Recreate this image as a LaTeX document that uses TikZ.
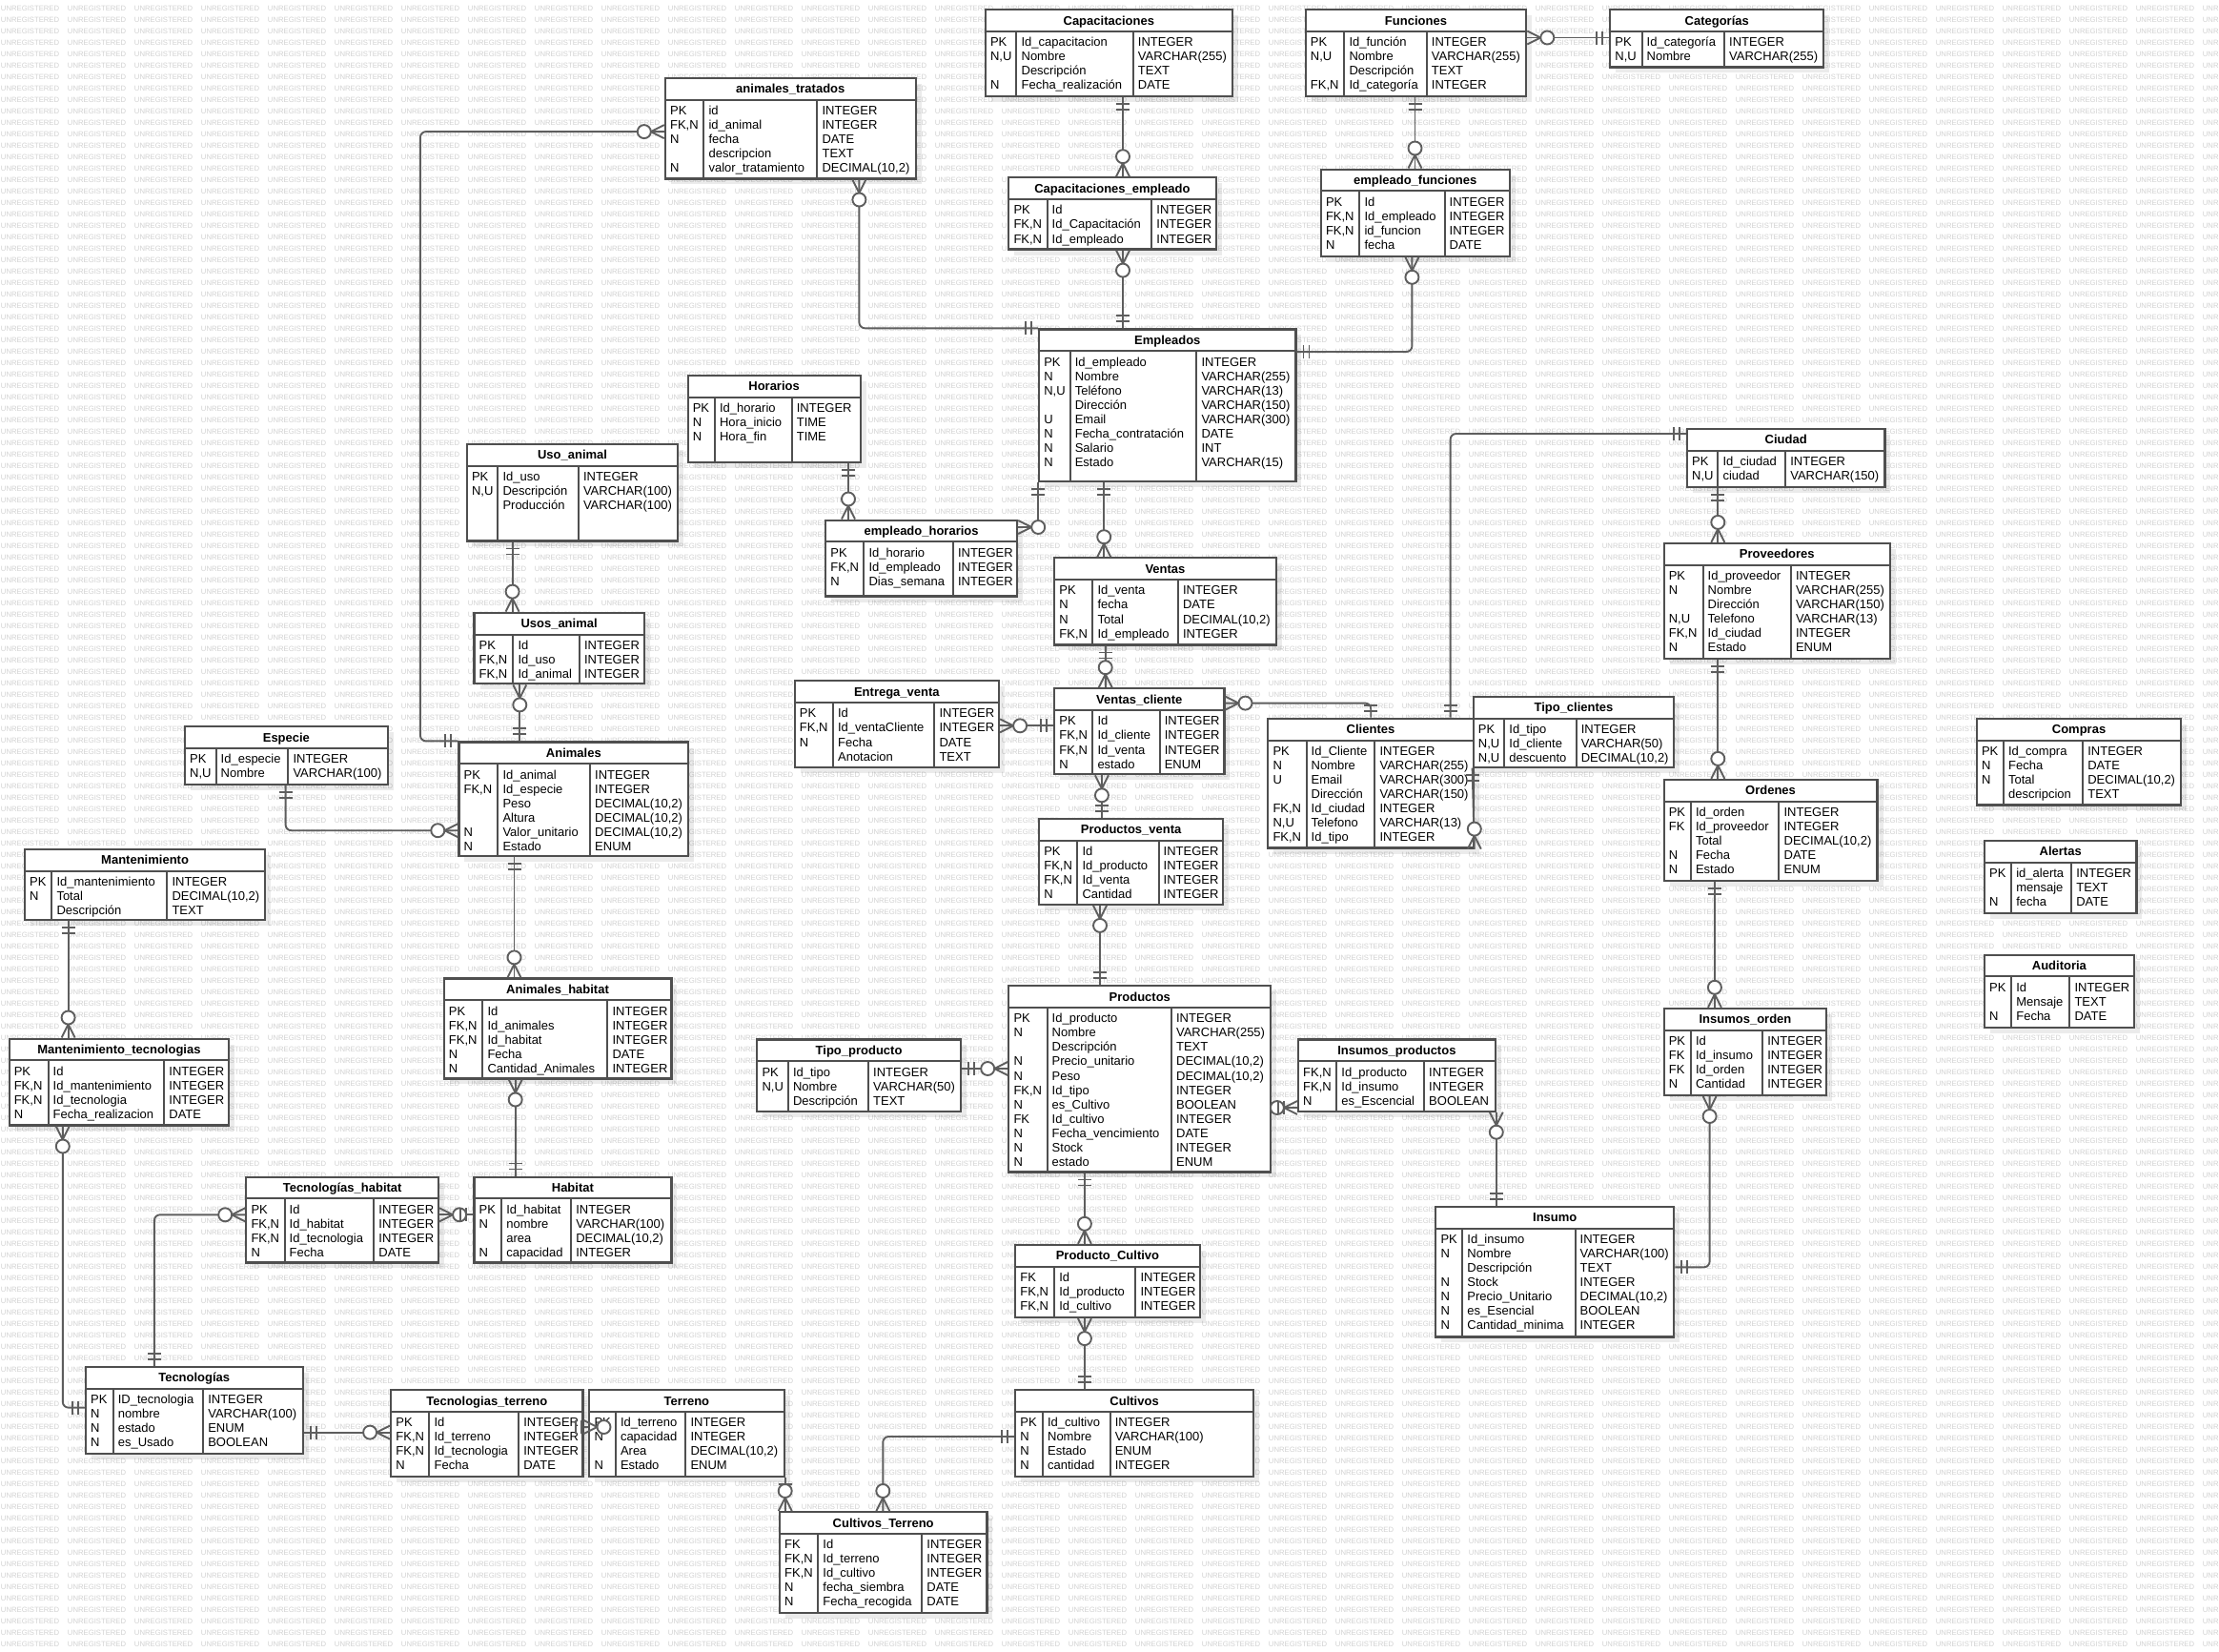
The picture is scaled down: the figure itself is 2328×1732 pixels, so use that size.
\documentclass[tikz,border=0pt]{standalone}
\usepackage{fontspec}
\setmainfont{Liberation Sans}
\usetikzlibrary{calc,fit}

\definecolor{edge}{HTML}{4F4F4F}
\definecolor{wire}{HTML}{5E5E5E}
\definecolor{wmgray}{HTML}{D2D2D2}

\tikzset{
  tblbox/.style={draw=edge, line width=2.2pt, fill=white, inner sep=0pt},
  tblrule/.style={draw=edge, line width=2pt},
  tshade/.style={fill=black, fill opacity=0.08, draw=none},
  ttitle/.style={font=\fontsize{13}{15}\selectfont\bfseries, anchor=base, inner sep=0pt},
  tcell/.style={font=\fontsize{13}{15}\selectfont, anchor=base west, inner sep=0pt},
  wire/.style={draw=wire, line width=1.9pt},
  wmark/.style={font=\fontsize{7.7}{8}\selectfont, text=wmgray, anchor=base west, inner sep=0pt},
}

% background watermark line
\newcommand\wmword{\makebox[70pt][l]{UNREGISTERED}}
\newcommand\wmten{\wmword\wmword\wmword\wmword\wmword\wmword\wmword\wmword\wmword\wmword}
\newcommand\wmrow{\wmten\wmten\wmten\wmword\wmword\wmword\wmword}

% one attribute row: key, name, type
\newcommand\ertabrow[3]{%
  \pgfmathsetmacro\rowy{\tabY+38.6+15.05*\i}%
  \node[tcell] (\tabN-k\i) at (\tabX+5,\rowy) {#1};%
  \node[tcell] (\tabN-n\i) at (\tabA+5,\rowy) {#2};%
  \node[tcell] (\tabN-y\i) at (\tabB+5,\rowy) {#3};%
}

% table: name, x1, y1, x2, y2, divider1, divider2, title, rows
\newcommand\ertab[9]{%
  \def\tabN{#1}\def\tabX{#2}\def\tabY{#3}\def\tabA{#6}\def\tabB{#7}%
  \fill[tshade] (#2+6,#3+6) rectangle (#4+6,#5+6);
  \node[tblbox, fit={(#2,#3) (#4,#5)}] (#1) {};
  \draw[tblrule] (#2,#3+22.8) -- (#4,#3+22.8)
                 (#6,#3+22.8) -- (#6,#5)
                 (#7,#3+22.8) -- (#7,#5);
  \node[ttitle] (#1-t) at ({(#2+#4)/2},#3+15.9) {#8};
  \foreach \r [count=\i from 0] in {#9} {\expandafter\ertabrow\r}%
}

% crow's foot with circle (zero or many)
\newcommand\zmany[2]{%
  \begin{scope}[shift={#1}, rotate=#2]
    \draw[wire] (0,7) -- (14,0) -- (0,-7);
    \draw[wire, fill=white] (21,0) circle[radius=7pt];
  \end{scope}}
% two bars (one and only one)
\newcommand\oneone[2]{%
  \begin{scope}[shift={#1}, rotate=#2]
    \draw[wire] (7,7) -- (7,-7) (13,7) -- (13,-7);
  \end{scope}}

\begin{document}
\begin{tikzpicture}[x=1pt, y=-1pt]
\useasboundingbox (0,0) rectangle (2328,1732);
\fill[white] (0,0) rectangle (2328,1732);

\foreach \k in {0,...,143} {\node[wmark] (wm\k) at (0.8,11.7+12*\k) {\wmrow};}

% ---------- tables ----------
\ertab{AT}{697.9}{81.7}{960.7}{187.4}{738.4}{857.4}{animales\_tratados}{
  {PK}{id}{INTEGER},{FK,N}{id\_animal}{INTEGER},{N}{fecha}{DATE},
  {}{descripcion}{TEXT},{N}{valor\_tratamiento}{DECIMAL(10,2)}}
\ertab{Cap}{1033.8}{10.2}{1292.8}{100.8}{1066.4}{1188.7}{Capacitaciones}{
  {PK}{Id\_capacitacion}{INTEGER},{N,U}{Nombre}{VARCHAR(255)},
  {}{Descripción}{TEXT},{N}{Fecha\_realización}{DATE}}
\ertab{CapEmp}{1058.3}{186.3}{1275.6}{261.5}{1098.5}{1208.2}{Capacitaciones\_empleado}{
  {PK}{Id}{INTEGER},{FK,N}{Id\_Capacitación}{INTEGER},{FK,N}{Id\_empleado}{INTEGER}}
\ertab{Fun}{1369.7}{10.2}{1601.2}{100.8}{1410.3}{1496.7}{Funciones}{
  {PK}{Id\_función}{INTEGER},{N,U}{Nombre}{VARCHAR(255)},
  {}{Descripción}{TEXT},{FK,N}{Id\_categoría}{INTEGER}}
\ertab{Cat}{1689.2}{10.2}{1913.3}{70.4}{1722.5}{1809}{Categorías}{
  {PK}{Id\_categoría}{INTEGER},{N,U}{Nombre}{VARCHAR(255)}}
\ertab{EF}{1385.8}{177.6}{1583.6}{268.7}{1426.3}{1515.5}{empleado\_funciones}{
  {PK}{Id}{INTEGER},{FK,N}{Id\_empleado}{INTEGER},{FK,N}{id\_funcion}{INTEGER},{N}{fecha}{DATE}}
\ertab{Emp}{1090.1}{345.4}{1359.4}{505.3}{1122.6}{1255.3}{Empleados}{
  {PK}{Id\_empleado}{INTEGER},{N}{Nombre}{VARCHAR(255)},{N,U}{Teléfono}{VARCHAR(13)},
  {}{Dirección}{VARCHAR(150)},{U}{Email}{VARCHAR(300)},{N}{Fecha\_contratación}{DATE},
  {N}{Salario}{INT},{N}{Estado}{VARCHAR(15)}}
\ertab{Hor}{721.6}{394}{902.6}{484.6}{749.9}{830.6}{Horarios}{
  {PK}{Id\_horario}{INTEGER},{N}{Hora\_inicio}{TIME},{N}{Hora\_fin}{TIME}}
\ertab{UA}{489.8}{465.8}{711.3}{567.4}{522.3}{606.8}{Uso\_animal}{
  {PK}{Id\_uso}{INTEGER},{N,U}{Descripción}{VARCHAR(100)},{}{Producción}{VARCHAR(100)}}
\ertab{EH}{866.2}{545.6}{1067.1}{625.5}{906.4}{999.8}{empleado\_horarios}{
  {PK}{Id\_horario}{INTEGER},{FK,N}{Id\_empleado}{INTEGER},{N}{Dias\_semana}{INTEGER}}
\ertab{Ciu}{1770}{449.7}{1977.4}{510.6}{1802.3}{1873.1}{Ciudad}{
  {PK}{Id\_ciudad}{INTEGER},{N,U}{ciudad}{VARCHAR(150)}}
\ertab{Prov}{1745.6}{570}{1983}{690.9}{1786.5}{1878.8}{Proveedores}{
  {PK}{Id\_proveedor}{INTEGER},{N}{Nombre}{VARCHAR(255)},{}{Dirección}{VARCHAR(150)},
  {N,U}{Telefono}{VARCHAR(13)},{FK,N}{Id\_ciudad}{INTEGER},{N}{Estado}{ENUM}}
\ertab{US}{497.5}{642.7}{675.7}{717.3}{538.4}{607.9}{Usos\_animal}{
  {PK}{Id}{INTEGER},{FK,N}{Id\_uso}{INTEGER},{FK,N}{Id\_animal}{INTEGER}}
\ertab{Ven}{1106.2}{585.3}{1338.7}{676.4}{1146.3}{1235.8}{Ventas}{
  {PK}{Id\_venta}{INTEGER},{N}{fecha}{DATE},{N}{Total}{DECIMAL(10,2)},{FK,N}{Id\_empleado}{INTEGER}}
\ertab{EV}{833.7}{714.3}{1048}{804.6}{873.9}{980.3}{Entrega\_venta}{
  {PK}{Id}{INTEGER},{FK,N}{Id\_ventaCliente}{INTEGER},{N}{Fecha}{DATE},{}{Anotacion}{TEXT}}
\ertab{VC}{1106.2}{722.3}{1284.4}{812.2}{1146.3}{1216.6}{Ventas\_cliente}{
  {PK}{Id}{INTEGER},{FK,N}{Id\_cliente}{INTEGER},{FK,N}{Id\_venta}{INTEGER},{N}{estado}{ENUM}}
\ertab{Cli}{1330.3}{753.7}{1545.7}{889.5}{1370.5}{1442.4}{Clientes}{
  {PK}{Id\_Cliente}{INTEGER},{N}{Nombre}{VARCHAR(255)},{U}{Email}{VARCHAR(300)},
  {}{Dirección}{VARCHAR(150)},{FK,N}{Id\_ciudad}{INTEGER},{N,U}{Telefono}{VARCHAR(13)},
  {FK,N}{Id\_tipo}{INTEGER}}
\ertab{TC}{1545.7}{730.7}{1756.2}{804.6}{1578.2}{1653.6}{Tipo\_clientes}{
  {PK}{Id\_tipo}{INTEGER},{N,U}{Id\_cliente}{VARCHAR(50)},{N,U}{descuento}{DECIMAL(10,2)}}
\ertab{Com}{2073.8}{753.7}{2288.3}{844.4}{2101.9}{2185.1}{Compras}{
  {PK}{Id\_compra}{INTEGER},{N}{Fecha}{DATE},{N}{Total}{DECIMAL(10,2)},{}{descripcion}{TEXT}}
\ertab{Ale}{2082}{881.9}{2241.4}{957.6}{2110.1}{2173.1}{Alertas}{
  {PK}{id\_alerta}{INTEGER},{}{mensaje}{TEXT},{N}{fecha}{DATE}}
\ertab{Aud}{2082}{1001.6}{2238.8}{1077.8}{2110.1}{2171.3}{Auditoria}{
  {PK}{Id}{INTEGER},{}{Mensaje}{TEXT},{N}{Fecha}{DATE}}
\ertab{Esp}{194}{762.1}{406.8}{822.6}{226.5}{302.3}{Especie}{
  {PK}{Id\_especie}{INTEGER},{N,U}{Nombre}{VARCHAR(100)}}
\ertab{Anim}{481.4}{778.5}{722.3}{898.3}{522.3}{619}{Animales}{
  {PK}{Id\_animal}{INTEGER},{FK,N}{Id\_especie}{INTEGER},{}{Peso}{DECIMAL(10,2)},
  {}{Altura}{DECIMAL(10,2)},{N}{Valor\_unitario}{DECIMAL(10,2)},{N}{Estado}{ENUM}}
\ertab{PV}{1090.1}{858.9}{1283.2}{948.8}{1130.3}{1215.5}{Productos\_venta}{
  {PK}{Id}{INTEGER},{FK,N}{Id\_producto}{INTEGER},{FK,N}{Id\_venta}{INTEGER},{N}{Cantidad}{INTEGER}}
\ertab{Ord}{1745.6}{818}{1969.5}{924}{1773.8}{1866.4}{Ordenes}{
  {PK}{Id\_orden}{INTEGER},{FK}{Id\_proveedor}{INTEGER},{}{Total}{DECIMAL(10,2)},
  {N}{Fecha}{DATE},{N}{Estado}{ENUM}}
\ertab{Mant}{26}{890.7}{278.2}{965.3}{54.3}{175.3}{Mantenimiento}{
  {PK}{Id\_mantenimiento}{INTEGER},{N}{Total}{DECIMAL(10,2)},{}{Descripción}{TEXT}}
\ertab{AH}{465.7}{1026.5}{704.4}{1131.4}{506.3}{637.4}{Animales\_habitat}{
  {PK}{Id}{INTEGER},{FK,N}{Id\_animales}{INTEGER},{FK,N}{Id\_habitat}{INTEGER},
  {N}{Fecha}{DATE},{N}{Cantidad\_Animales}{INTEGER}}
\ertab{Prod}{1058.3}{1034.2}{1333.3}{1229.4}{1098.5}{1228.9}{Productos}{
  {PK}{Id\_producto}{INTEGER},{N}{Nombre}{VARCHAR(255)},{}{Descripción}{TEXT},
  {N}{Precio\_unitario}{DECIMAL(10,2)},{N}{Peso}{DECIMAL(10,2)},{FK,N}{Id\_tipo}{INTEGER},
  {N}{es\_Cultivo}{BOOLEAN},{FK}{Id\_cultivo}{INTEGER},{N}{Fecha\_vencimiento}{DATE},
  {N}{Stock}{INTEGER},{N}{estado}{ENUM}}
\ertab{TP}{794.3}{1090.4}{1007.8}{1165.6}{826.8}{911}{Tipo\_producto}{
  {PK}{Id\_tipo}{INTEGER},{N,U}{Nombre}{VARCHAR(50)},{}{Descripción}{TEXT}}
\ertab{IP}{1362}{1090.4}{1568.7}{1165.6}{1402.2}{1494}{Insumos\_productos}{
  {FK,N}{Id\_producto}{INTEGER},{FK,N}{Id\_insumo}{INTEGER},{N}{es\_Escencial}{BOOLEAN}}
\ertab{IO}{1745.6}{1057.9}{1916.3}{1148.9}{1773.8}{1849.1}{Insumos\_orden}{
  {PK}{Id}{INTEGER},{FK}{Id\_insumo}{INTEGER},{FK}{Id\_orden}{INTEGER},{N}{Cantidad}{INTEGER}}
\ertab{MT}{9.6}{1089.6}{240.3}{1180.4}{50.5}{172.2}{Mantenimiento\_tecnologias}{
  {PK}{Id}{INTEGER},{FK,N}{Id\_mantenimiento}{INTEGER},{FK,N}{Id\_tecnologia}{INTEGER},
  {N}{Fecha\_realizacion}{DATE}}
\ertab{TH}{258.3}{1234.6}{460}{1324.4}{298.5}{392.2}{Tecnologías\_habitat}{
  {PK}{Id}{INTEGER},{FK,N}{Id\_habitat}{INTEGER},{FK,N}{Id\_tecnologia}{INTEGER},{N}{Fecha}{DATE}}
\ertab{Hab}{497.4}{1234.6}{704.4}{1324.4}{526.1}{599.1}{Habitat}{
  {PK}{Id\_habitat}{INTEGER},{N}{nombre}{VARCHAR(100)},{}{area}{DECIMAL(10,2)},{N}{capacidad}{INTEGER}}
\ertab{Ins}{1506.3}{1265.8}{1756.2}{1402.4}{1534.2}{1652.5}{Insumo}{
  {PK}{Id\_insumo}{INTEGER},{N}{Nombre}{VARCHAR(100)},{}{Descripción}{TEXT},
  {N}{Stock}{INTEGER},{N}{Precio\_Unitario}{DECIMAL(10,2)},{N}{es\_Esencial}{BOOLEAN},
  {N}{Cantidad\_minima}{INTEGER}}
\ertab{PC}{1065.2}{1305.9}{1258.7}{1382}{1106.1}{1191.4}{Producto\_Cultivo}{
  {FK}{Id}{INTEGER},{FK,N}{Id\_producto}{INTEGER},{FK,N}{Id\_cultivo}{INTEGER}}
\ertab{Tec}{89.9}{1434}{317.6}{1524.9}{118.6}{213.1}{Tecnologías}{
  {PK}{ID\_tecnologia}{INTEGER},{N}{nombre}{VARCHAR(100)},{N}{estado}{ENUM},{N}{es\_Usado}{BOOLEAN}}
\ertab{TT}{410.2}{1458.1}{611.4}{1549}{450.4}{544.1}{Tecnologias\_terreno}{
  {PK}{Id}{INTEGER},{FK,N}{Id\_terreno}{INTEGER},{FK,N}{Id\_tecnologia}{INTEGER},{N}{Fecha}{DATE}}
\ertab{Ter}{618.3}{1458.1}{822.6}{1549}{645.8}{719.3}{Terreno}{
  {PK}{Id\_terreno}{INTEGER},{N}{capacidad}{INTEGER},{}{Area}{DECIMAL(10,2)},{N}{Estado}{ENUM}}
\ertab{Cul}{1065.2}{1458.1}{1315}{1549}{1093.9}{1164.6}{Cultivos}{
  {PK}{Id\_cultivo}{INTEGER},{N}{Nombre}{VARCHAR(100)},{N}{Estado}{ENUM},{N}{cantidad}{INTEGER}}
\ertab{CT}{818}{1586.1}{1035.4}{1691.9}{858.2}{967.2}{Cultivos\_Terreno}{
  {FK}{Id}{INTEGER},{FK,N}{Id\_terreno}{INTEGER},{FK,N}{Id\_cultivo}{INTEGER},
  {N}{fecha\_siembra}{DATE},{N}{Fecha\_recogida}{DATE}}

% ---------- relationships ----------
\begin{scope}[rounded corners=6pt]
\draw[wire] (AT.west |- 0,138.1) -| ($(Anim.north west)+(-39.4,0)$) -- (Anim.north west);
\draw[wire] (AT.south -| 901.4,0) |- (Emp.north west);
\draw[wire] (Emp.east |- 0,369) -| (EF.south -| 1481.4,0);
\draw[wire] (VC.east |- 0,737.6) -| (Cli.north -| 1438.2,0);
\draw[wire] (Cli.north -| 1521.6,0) |- (Ciu.west |- 0,455);
\draw[wire] (Cul.west |- 0,1507) -| (CT.north -| 926.3,0);
\draw[wire] (Tec.north -| 161.9,0) |- (TH.west |- 0,1274.3);
\draw[wire] (Esp.south -| 299.6,0) |- (Anim.west |- 0,871.2);
\draw[wire] (MT.south -| 65.8,0) |- (Tec.west |- 0,1476.6);
\draw[wire] (IO.south -| 1793.6,0) |- (Ins.east |- 0,1329.3);
\end{scope}
\draw[wire] (Cap.south -| 1178,0) -- (CapEmp.north -| 1178,0);
\draw[wire] (CapEmp.south -| 1178,0) -- (Emp.north -| 1178,0);
\draw[wire] (Fun.south -| 1484.5,0) -- (EF.north -| 1484.5,0);
\draw[wire] (Fun.east |- 0,39.5) -- (Cat.west |- 0,39.5);
\draw[wire] (Hor.south -| 890,0) -- (EH.north -| 890,0);
\draw[wire] (Emp.south west) |- (EH.east |- 0,553);
\draw[wire] (Emp.south -| 1158.2,0) -- (Ven.north -| 1158.2,0);
\draw[wire] (Ven.south -| 1159.7,0) -- (VC.north -| 1159.7,0);
\draw[wire] (EV.east |- 0,761.3) -- (VC.west |- 0,761.3);
\draw[wire] (TC.south west) -- (Cli.south east);
\draw[wire] (VC.south -| 1155.9,0) -- (PV.north -| 1155.9,0);
\draw[wire] (PV.south -| 1154,0) -- (Prod.north -| 1154,0);
\draw[wire] (TP.east |- 0,1121) -- (Prod.west |- 0,1121);
\draw[wire] (IP.west |- 0,1162) -- (Prod.east |- 0,1162);
\draw[wire] (IP.south east) -- (Ins.north -| IP.south east);
\draw[wire] (Prod.south -| 1137.9,0) -- (PC.north -| 1137.9,0);
\draw[wire] (PC.south -| 1137.9,0) -- (Cul.north -| 1137.9,0);
\draw[wire] (Ter.south east) -- (CT.north -| Ter.south east);
\draw[wire] (Tec.east |- 0,1502.6) -- (TT.west |- 0,1502.6);
\draw[wire] (TT.east |- 0,1497) -- (Ter.west |- 0,1497);
\draw[wire] (TH.east |- 0,1274.3) -- (Hab.west |- 0,1274.3);
\draw[wire] (AH.south -| 540.7,0) -- (Hab.north -| 540.7,0);
\draw[wire] (Anim.south -| 539.5,0) -- (AH.north -| 539.5,0);
\draw[wire] (UA.south -| 537.6,0) -- (US.north -| 537.6,0);
\draw[wire] (US.south -| 545.3,0) -- (Anim.north -| 545.3,0);
\draw[wire] (Mant.south -| 71.6,0) -- (MT.north -| 71.6,0);
\draw[wire] (Ciu.south -| 1802.3,0) -- (Prov.north -| 1802.3,0);
\draw[wire] (Prov.south -| 1802.3,0) -- (Ord.north -| 1802.3,0);
\draw[wire] (Ord.south -| 1798.9,0) -- (IO.north -| 1798.9,0);

% ---------- cardinality marks ----------
\zmany{(AT.west |- 0,138.1)}{180}      \oneone{(Anim.north west)}{180}
\zmany{(AT.south -| 901.4,0)}{270}     \oneone{(Emp.north west)}{180}
\oneone{(Cap.south -| 1178,0)}{270}    \zmany{(CapEmp.north -| 1178,0)}{90}
\zmany{(CapEmp.south -| 1178,0)}{270}  \oneone{(Emp.north -| 1178,0)}{90}
\oneone{(Emp.east |- 0,369)}{0}        \zmany{(EF.south -| 1481.4,0)}{270}
\oneone{(Fun.south -| 1484.5,0)}{270}  \zmany{(EF.north -| 1484.5,0)}{90}
\zmany{(Fun.east |- 0,39.5)}{0}        \oneone{(Cat.west |- 0,39.5)}{180}
\oneone{(Hor.south -| 890,0)}{270}     \zmany{(EH.north -| 890,0)}{90}
\oneone{(Emp.south west)}{270}         \zmany{(EH.east |- 0,553)}{0}
\oneone{(Emp.south -| 1158.2,0)}{270}  \zmany{(Ven.north -| 1158.2,0)}{90}
\oneone{(Ven.south -| 1159.7,0)}{270}  \zmany{(VC.north -| 1159.7,0)}{90}
\zmany{(EV.east |- 0,761.3)}{0}        \oneone{(VC.west |- 0,761.3)}{180}
\zmany{(VC.east |- 0,737.6)}{0}        \oneone{(Cli.north -| 1438.2,0)}{90}
\oneone{(Cli.north -| 1521.6,0)}{90}   \oneone{(Ciu.west |- 0,455)}{180}
\oneone{(TC.south west)}{270}          \zmany{(Cli.south east)}{90}
\zmany{(VC.south -| 1155.9,0)}{270}    \oneone{(PV.north -| 1155.9,0)}{90}
\zmany{(PV.south -| 1154,0)}{270}      \oneone{(Prod.north -| 1154,0)}{90}
\oneone{(TP.east |- 0,1121)}{0}        \zmany{(Prod.west |- 0,1121)}{180}
\zmany{(IP.west |- 0,1162)}{180}       \oneone{(Prod.east |- 0,1162)}{0}
\zmany{(IP.south east)}{270}           \oneone{(Ins.north -| IP.south east)}{90}
\oneone{(Prod.south -| 1137.9,0)}{270} \zmany{(PC.north -| 1137.9,0)}{90}
\zmany{(PC.south -| 1137.9,0)}{270}    \oneone{(Cul.north -| 1137.9,0)}{90}
\oneone{(Cul.west |- 0,1507)}{180}     \zmany{(CT.north -| 926.3,0)}{90}
\oneone{(Ter.south east)}{270}         \zmany{(CT.north -| Ter.south east)}{90}
\oneone{(Tec.east |- 0,1502.6)}{0}     \zmany{(TT.west |- 0,1502.6)}{180}
\zmany{(TT.east |- 0,1497)}{0}         \oneone{(Ter.west |- 0,1497)}{180}
\oneone{(Tec.north -| 161.9,0)}{90}    \zmany{(TH.west |- 0,1274.3)}{180}
\zmany{(TH.east |- 0,1274.3)}{0}       \oneone{(Hab.west |- 0,1274.3)}{180}
\zmany{(AH.south -| 540.7,0)}{270}     \oneone{(Hab.north -| 540.7,0)}{90}
\oneone{(Anim.south -| 539.5,0)}{270}  \zmany{(AH.north -| 539.5,0)}{90}
\oneone{(Esp.south -| 299.6,0)}{270}   \zmany{(Anim.west |- 0,871.2)}{180}
\oneone{(UA.south -| 537.6,0)}{270}    \zmany{(US.north -| 537.6,0)}{90}
\zmany{(US.south -| 545.3,0)}{270}     \oneone{(Anim.north -| 545.3,0)}{90}
\oneone{(Mant.south -| 71.6,0)}{270}   \zmany{(MT.north -| 71.6,0)}{90}
\zmany{(MT.south -| 65.8,0)}{270}      \oneone{(Tec.west |- 0,1476.6)}{180}
\oneone{(Ciu.south -| 1802.3,0)}{270}  \zmany{(Prov.north -| 1802.3,0)}{90}
\oneone{(Prov.south -| 1802.3,0)}{270} \zmany{(Ord.north -| 1802.3,0)}{90}
\oneone{(Ord.south -| 1798.9,0)}{270}  \zmany{(IO.north -| 1798.9,0)}{90}
\zmany{(IO.south -| 1793.6,0)}{270}    \oneone{(Ins.east |- 0,1329.3)}{0}
\end{tikzpicture}
\end{document}
